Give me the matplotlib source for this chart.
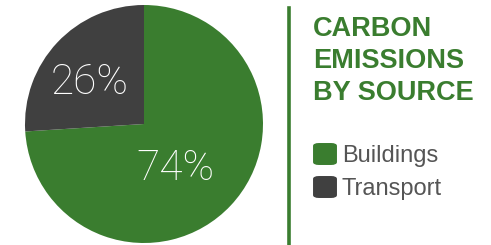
import matplotlib
matplotlib.use("Agg")
import matplotlib.pyplot as plt
from matplotlib.patches import FancyBboxPatch

# Data
sources = ["Buildings", "Transport"]
shares = [74, 26]
colors = ["#3a7d2f", "#404040"]
title_lines = ["CARBON", "EMISSIONS", "BY SOURCE"]

W, H = 491, 245
fig = plt.figure(figsize=(W / 100, H / 100), dpi=100)
fig.patch.set_facecolor("white")

# Pie axes: center ~(144,124) px, radius ~119 px
cx, cy, r = 144, 124, 119
ax = fig.add_axes([(cx - r) / W, (H - cy - r) / H, 2 * r / W, 2 * r / H])
wedges, _ = ax.pie(
    shares,
    colors=colors,
    startangle=90,
    counterclock=False,
    radius=1,
    wedgeprops={"linewidth": 0},
)
ax.set_xlim(-1, 1)
ax.set_ylim(-1, 1)
ax.set_aspect("equal")
ax.axis("off")

# Percentage labels
label_pos = [(0.265, -0.375), (-0.455, 0.35)]
for val, (lx, ly) in zip(shares, label_pos):
    ax.text(lx, ly, f"{val}%", color="white", fontsize=30.5, family="Roboto",
            fontweight="light", ha="center", va="center")

# Vertical divider
fig.add_artist(plt.Line2D([289 / W, 289 / W], [0, 1 - 8 / H],
                          color=colors[0], linewidth=2.6, transform=fig.transFigure))

# Title
for i, line in enumerate(title_lines):
    fig.text(313 / W, 1 - (36 + i * 32) / H, line, color=colors[0],
             fontsize=19.5, fontweight="bold", family="Liberation Sans",
             ha="left", va="baseline")

# Legend
for i, (name, col) in enumerate(zip(sources, colors)):
    top = 142 + i * 33
    box = FancyBboxPatch((315 / W, 1 - (top + 22) / H), 20 / W, 20 / H,
                         boxstyle="round,pad=0.004,rounding_size=0.012",
                         transform=fig.transFigure, facecolor=col, edgecolor="none")
    fig.add_artist(box)
    fig.text(342 / W, 1 - (top + 20) / H, name, color="#555555", fontsize=17,
             family="Liberation Sans", ha="left", va="baseline")

fig.savefig("out.png", dpi=100, facecolor=fig.get_facecolor())
